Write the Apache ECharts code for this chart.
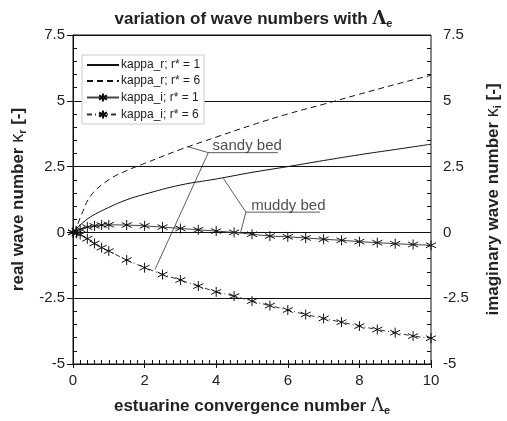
<!DOCTYPE html>
<html><head><meta charset="utf-8">
<script src="https://cdn.jsdelivr.net/npm/echarts@6/dist/echarts.min.js"></script>
<style>html,body{margin:0;padding:0;background:#fff}#c{width:507px;height:421px}</style>
</head><body><div id="c"></div>
<script>
// ---- data ----
var xReal = [0, 0.1, 0.2, 0.5, 1, 1.5, 2, 3, 4, 5, 6, 7, 8, 9, 10];
var kappaR1 = [0, 0.15, 0.28, 0.6, 0.95, 1.24, 1.45, 1.8, 2.03, 2.28, 2.5, 2.73, 2.95, 3.15, 3.35];
var kappaR6 = [0, 0.2, 0.55, 1.4, 2.0, 2.35, 2.62, 3.15, 3.62, 4.08, 4.5, 4.87, 5.25, 5.62, 5.97];
var xImag = [0, 0.1, 0.2, 0.4, 0.6, 0.8, 1, 1.5, 2, 2.5, 3, 3.5, 4, 4.5, 5, 5.5, 6, 6.5, 7, 7.5, 8, 8.5, 9, 9.5, 10];
var kappaI1 = [0, 0.05, 0.12, 0.2, 0.25, 0.28, 0.29, 0.28, 0.25, 0.2, 0.15, 0.1, 0.05, 0.0, -0.07, -0.14, -0.17, -0.21, -0.26, -0.3, -0.35, -0.39, -0.43, -0.46, -0.49];
var kappaI6 = [0, -0.04, -0.08, -0.24, -0.42, -0.58, -0.71, -1.05, -1.34, -1.6, -1.81, -2.04, -2.26, -2.42, -2.61, -2.78, -2.95, -3.12, -3.27, -3.41, -3.56, -3.69, -3.81, -3.94, -4.02];
var seriesNames = ['kappa_r; r* = 1', 'kappa_r; r* = 6', 'kappa_i; r* = 1', 'kappa_i; r* = 6'];
// annotation leaders (data coordinates)
var sandyLeader = [[3.2, 3.26], [3.78, 3.03], [5.72, 3.03]];
var sandyLeader2 = [[3.78, 3.03], [2.29, -1.41]];
var muddyLeader = [[4.2, 2.05], [4.83, 0.77], [6.9, 0.77]];
var muddyLeader2 = [[4.83, 0.77], [4.68, -0.01]];
var labels = [{x: 3.9, y: 3.27, text: 'sandy bed'}, {x: 4.98, y: 1.0, text: 'muddy bed'}];

function pairs(xs, ys) { return xs.map(function (x, i) { return [x, ys[i]]; }); }
var FONT = 'Liberation Sans, Arial, sans-serif';
var ast = 'path://M5,0L5,10M0.67,2.5L9.33,7.5M0.67,7.5L9.33,2.5';
var ink = '#111';

var chart = echarts.init(document.getElementById('c'));
var yBase = {
  type: 'value', min: -5, max: 7.5, interval: 2.5,
  axisLine: {show: true, lineStyle: {color: ink, width: 1}},
  axisTick: {show: true, inside: false, length: 6, lineStyle: {color: ink}},
  axisLabel: {color: '#222', fontFamily: FONT, fontSize: 15, formatter: function (v) { return String(v); }},
  splitLine: {show: false}
};
function minorY(pos) {
  return {
    type: 'value', min: -5, max: 7.5, interval: 0.5, position: pos, gridIndex: 0,
    axisLine: {show: false}, axisLabel: {show: false}, splitLine: {show: false},
    axisTick: {show: true, inside: true, length: 4, lineStyle: {color: ink}}
  };
}
function nameRich() {
  return {
    t: {fontFamily: FONT, fontWeight: 'bold', fontSize: 17, color: '#222'},
    l: {fontFamily: 'DejaVu Serif, serif', fontSize: 18, color: '#222'},
    k: {fontFamily: FONT, fontSize: 18, color: '#222'},
    s: {fontFamily: FONT, fontWeight: 'bold', fontSize: 11, color: '#222', padding: [9, 0, 0, 0]}
  };
}
var leaderStyle = {color: '#333', width: 0.8};
function leader(d) {
  return {type: 'line', data: d, symbol: 'none', lineStyle: leaderStyle, silent: true, z: 1, animation: false};
}
var option = {
  animation: false,
  backgroundColor: '#fff',
  title: {
    text: '{t|variation of wave numbers with }{l|Λ}{s|e}',
    left: 'center', top: 4,
    textStyle: {rich: nameRich()}
  },
  grid: {left: 73, right: 76, top: 35, bottom: 57, show: true, borderColor: ink, borderWidth: 1,
    containLabel: false, outerBoundsMode: 'none'},
  legend: {
    data: [
      {name: seriesNames[0], itemStyle: {opacity: 0}},
      {name: seriesNames[1], itemStyle: {opacity: 0}},
      {name: seriesNames[2]},
      {name: seriesNames[3]}
    ],
    orient: 'vertical', left: 82, top: 55,
    itemWidth: 32, itemHeight: 10, itemGap: 4,
    padding: [4, 4, 3, 4], borderColor: '#ccc', borderWidth: 1, backgroundColor: '#fff',
    textStyle: {fontFamily: FONT, fontSize: 12, color: '#222', padding: [0, 0, 0, -3]}
  },
  xAxis: [{
    type: 'value', min: 0, max: 10, interval: 2,
    axisLine: {show: true, onZero: false, lineStyle: {color: ink}},
    axisTick: {show: true, inside: false, length: 4, lineStyle: {color: ink}},
    axisLabel: {color: '#222', fontFamily: FONT, fontSize: 15, margin: 9},
    splitLine: {show: false},
    name: '{t|estuarine convergence number }{l|Λ}{s|e}',
    nameLocation: 'middle', nameGap: 32,
    nameTextStyle: {rich: nameRich()}
  }, {
    type: 'value', min: 0, max: 10, interval: 0.2, position: 'bottom',
    axisLine: {show: false, onZero: false}, axisLabel: {show: false}, splitLine: {show: false},
    axisTick: {show: true, inside: true, length: 4, lineStyle: {color: ink}}
  }],
  yAxis: [
    Object.assign({}, yBase, {
      position: 'left',
      splitLine: {show: true, lineStyle: {color: ink, width: 1}},
      name: '{t|real wave number }{k|κ}{s|r}{t| [-]}',
      nameLocation: 'middle', nameRotate: 90, nameGap: 45,
      nameTextStyle: {rich: nameRich()}
    }),
    Object.assign({}, yBase, {
      position: 'right',
      axisLabel: Object.assign({}, yBase.axisLabel, {margin: 12}),
      name: '{t|imaginary wave number }{k|κ}{s|i}{t| [-]}',
      nameLocation: 'middle', nameRotate: 90, nameGap: 52,
      nameTextStyle: {rich: nameRich()}
    }),
    minorY('left'),
    minorY('right')
  ],
  series: [
    {name: seriesNames[0], type: 'line', smooth: 0.4, data: pairs(xReal, kappaR1), symbol: 'none', lineStyle: {color: ink, width: 1}, itemStyle: {color: ink}, z: 3},
    {name: seriesNames[1], type: 'line', smooth: 0.4, data: pairs(xReal, kappaR6), symbol: 'none', lineStyle: {color: ink, width: 1, type: [6, 4]}, itemStyle: {color: ink}, z: 3},
    {name: seriesNames[2], type: 'line', data: pairs(xImag, kappaI1), symbol: ast, symbolSize: 10, showSymbol: true,
      lineStyle: {color: '#444', width: 1}, itemStyle: {color: 'none', borderColor: ink, borderWidth: 1}, z: 4},
    {name: seriesNames[3], type: 'line', data: pairs(xImag, kappaI6), symbol: ast, symbolSize: 10, showSymbol: true,
      lineStyle: {color: '#333', width: 1, type: [5, 3, 1, 3]}, itemStyle: {color: 'none', borderColor: ink, borderWidth: 1}, z: 4},
    leader(sandyLeader), leader(sandyLeader2), leader(muddyLeader), leader(muddyLeader2),
    {
      type: 'scatter', symbolSize: 0, silent: true, z: 5,
      data: labels.map(function (l) { return {value: [l.x, l.y], name: l.text}; }),
      label: {show: true, position: 'right', distance: 0, formatter: '{b}', fontFamily: FONT, fontSize: 15, color: '#222'}
    }
  ]
};
chart.setOption(option);
</script>
</body></html>
